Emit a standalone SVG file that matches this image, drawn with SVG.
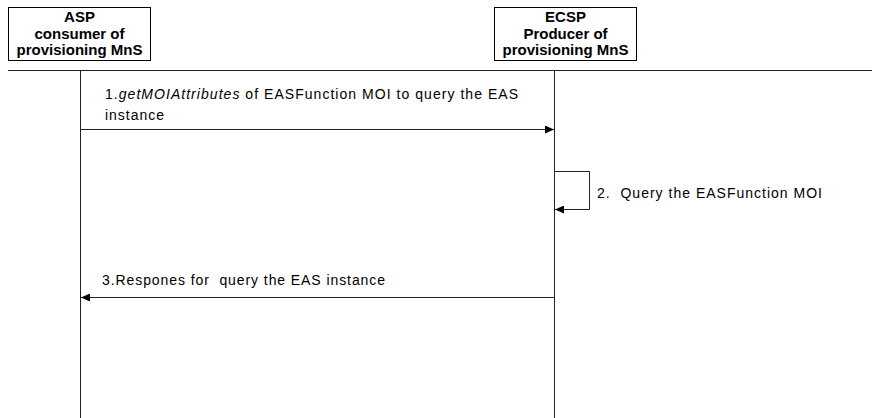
<svg xmlns="http://www.w3.org/2000/svg" width="872" height="418" viewBox="0 0 872 418">
<style>
.box{fill:#fff;stroke:#000;stroke-width:1}
.hdr{font-family:"Liberation Sans",Arial,sans-serif;font-weight:bold;font-size:15px;text-anchor:middle;fill:#000}
.lbl{font-family:"Liberation Sans",Arial,sans-serif;font-size:14px;fill:#000;white-space:pre}
.ln{stroke:#222;stroke-width:1;fill:none}
</style>
<defs>
<marker id="ah" markerWidth="10" markerHeight="8" refX="9" refY="4" orient="auto" markerUnits="userSpaceOnUse">
<path d="M0,0 L9,4 L0,8 z" fill="#000"/>
</marker>
</defs>
<rect width="872" height="418" fill="#fff"/>
<g id="asp">
<rect class="box" x="8.5" y="7.5" width="142" height="53"/>
<text class="hdr" x="79.5" y="22">ASP</text>
<text class="hdr" x="79.5" y="38.5">consumer of</text>
<text class="hdr" x="79.5" y="55">provisioning MnS</text>
</g>
<g id="ecsp">
<rect class="box" x="494.5" y="7.5" width="142" height="53"/>
<text class="hdr" x="565.5" y="22">ECSP</text>
<text class="hdr" x="565.5" y="38.5">Producer of</text>
<text class="hdr" x="565.5" y="55">provisioning MnS</text>
</g>
<g id="connectors">
<line class="ln" x1="8" y1="70.5" x2="872" y2="70.5"/>
<line class="ln" x1="80.5" y1="70" x2="80.5" y2="418"/>
<line class="ln" x1="554.5" y1="70" x2="554.5" y2="418"/>
<line class="ln" x1="80.5" y1="129.5" x2="554" y2="129.5" marker-end="url(#ah)"/>
<polyline class="ln" points="554.5,171.5 589.5,171.5 589.5,209.5 555,209.5" marker-end="url(#ah)"/>
<line class="ln" x1="554.5" y1="297.5" x2="81" y2="297.5" marker-end="url(#ah)"/>
</g>
<g id="labels">
<text class="lbl" x="105" y="99" textLength="413" lengthAdjust="spacing">1.<tspan font-style="italic">getMOIAttributes</tspan> of EASFunction MOI to query the EAS</text>
<text class="lbl" x="105" y="120" textLength="59" lengthAdjust="spacing">instance</text>
<text class="lbl" x="597" y="198" textLength="225" lengthAdjust="spacing">2.  Query the EASFunction MOI</text>
<text class="lbl" x="102" y="285" textLength="283" lengthAdjust="spacing">3.Respones for  query the EAS instance</text>
</g>
</svg>
